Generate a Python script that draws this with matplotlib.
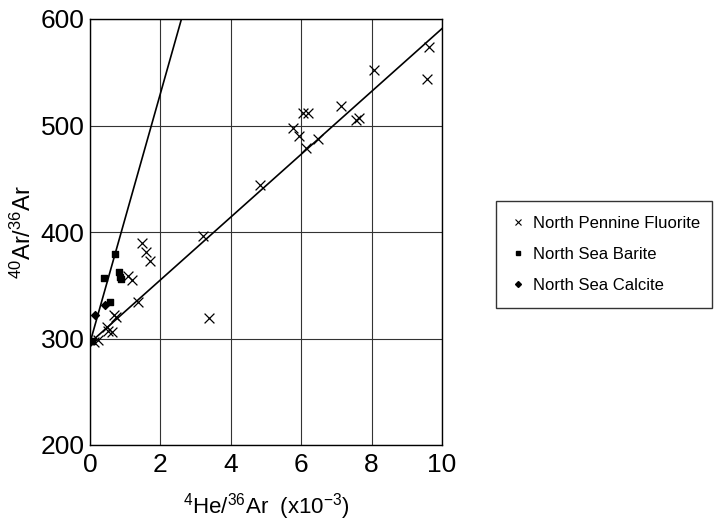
import matplotlib
matplotlib.use("Agg")
import matplotlib.pyplot as plt
import numpy as np
from matplotlib.lines import Line2D

plt.rcParams['font.family'] = ['Liberation Sans', 'DejaVu Sans']
plt.rcParams['mathtext.fontset'] = 'custom'
plt.rcParams['mathtext.rm'] = 'Liberation Sans'
plt.rcParams['mathtext.it'] = 'Liberation Sans'
plt.rcParams['mathtext.default'] = 'regular'

# Data: 4He/36Ar (x10^-3) vs 40Ar/36Ar
fluorite_x = [9.63, 9.58, 8.08, 7.13, 6.04, 6.18, 5.76, 5.93, 6.14, 6.48, 7.55, 7.63,
              4.84, 3.21, 3.38, 1.49, 1.60, 1.71, 1.09, 1.18, 1.35, 0.69, 0.74,
              0.47, 0.52, 0.62, 0.24, 0.10]
fluorite_y = [573.5, 543.5, 552.5, 518, 512, 512, 498, 490, 478.5, 487, 505.5, 507,
              444, 396, 319.5, 390, 381, 372.5, 358.5, 354.5, 334.5, 322, 320,
              311, 307.5, 306.5, 299, 297]
barite_x = [0.71, 0.40, 0.83, 0.86, 0.87, 0.56, 0.05]
barite_y = [379, 357, 362, 358, 355.5, 334, 298]
calcite_x = [0.15, 0.43]
calcite_y = [322, 331]

# Reference lines (intercept, slope)
line_intercept = 296
steep_slope = 117
shallow_slope = 29.5

x_ticks = [0, 2, 4, 6, 8, 10]
y_ticks = [200, 300, 400, 500, 600]

fig = plt.figure(figsize=(7.17, 5.25), dpi=100)
ax = fig.add_axes([90/717, 1-445/525, 352/717, 426/525])

ax.set_xlim(0, 10)
ax.set_ylim(200, 600)
ax.set_xticks(x_ticks)
ax.set_yticks(y_ticks)
ax.tick_params(length=0, labelsize=19)
ax.tick_params(axis='x', pad=6)
ax.tick_params(axis='y', pad=4)
ax.grid(True, color='#333333', linewidth=0.8)
ax.set_axisbelow(True)
for s in ax.spines.values():
    s.set_color('black')
    s.set_linewidth(1.0)

xs = np.array([0, 10])
ax.plot(xs, line_intercept + steep_slope * xs, color='black', lw=1.2, zorder=2)
ax.plot(xs, line_intercept + shallow_slope * xs, color='black', lw=1.2, zorder=2)

ax.scatter(fluorite_x, fluorite_y, marker='x', s=50, color='black', linewidths=0.9, zorder=3)
ax.scatter(barite_x, barite_y, marker='s', s=20, color='black', zorder=3)
ax.scatter(calcite_x, calcite_y, marker='D', s=16, color='black', zorder=3)

ax.set_xlabel(r'$^{4}$He/$^{36}$Ar  (x10$^{-3}$)', fontsize=16, labelpad=10)
ax.set_ylabel(r'$^{40}$Ar/$^{36}$Ar', fontsize=17, labelpad=3)

handles = [Line2D([], [], marker='x', ls='none', color='black', markersize=5, mew=0.8),
           Line2D([], [], marker='s', ls='none', color='black', markersize=3.5),
           Line2D([], [], marker='D', ls='none', color='black', markersize=3)]
labels = ['North Pennine Fluorite', 'North Sea Barite', 'North Sea Calcite']
leg = fig.legend(handles, labels, loc='upper left',
                 bbox_to_anchor=(496/717, 1-201/525, 216/717, 0.0),
                 mode='expand', fontsize=12, frameon=True, fancybox=False,
                 edgecolor='black', handlelength=0.8, handletextpad=0.5,
                 labelspacing=0.95, borderpad=0.9, borderaxespad=0)
leg.get_frame().set_linewidth(1.0)

fig.savefig('out.png', dpi=100)
